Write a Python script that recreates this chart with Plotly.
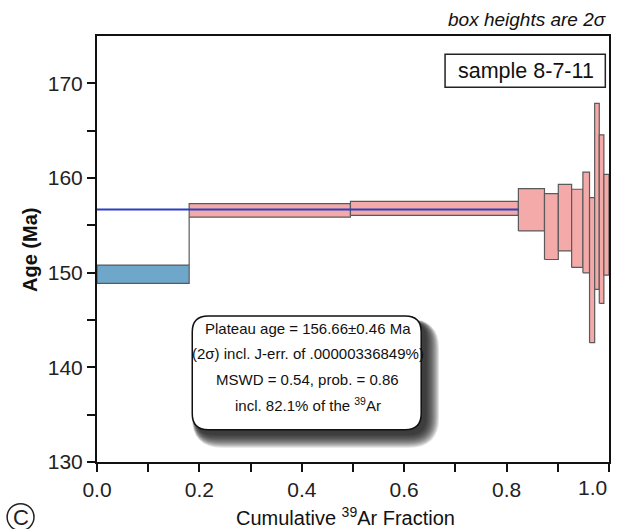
import plotly.graph_objects as go

# ---- data ----
step_edges = [0.0, 0.180, 0.495, 0.823, 0.874, 0.901, 0.927, 0.949, 0.962, 0.972, 0.981, 0.990, 1.0]
step_ages = [149.83, 156.58, 156.79, 156.64, 154.87, 155.82, 154.68, 155.30, 150.26, 158.06, 155.66, 155.06]
step_err2s = [0.97, 0.71, 0.74, 2.23, 3.48, 3.51, 4.13, 5.32, 7.66, 9.83, 8.90, 5.32]
in_plateau = [False] + [True] * 11

plateau_age = 156.66
plateau_line_x = [0.0, 0.823]

x_tick_vals = [0.0, 0.1, 0.2, 0.3, 0.4, 0.5, 0.6, 0.7, 0.8, 0.9, 1.0]
x_tick_text = ["0.0", " ", "0.2", " ", "0.4", " ", "0.6", " ", "0.8", " ", " "]
y_tick_vals = [130, 135, 140, 145, 150, 155, 160, 165, 170]
y_tick_text = ["130", " ", "140", " ", "150", " ", "160", " ", "170"]

plateau_lines = [
    "Plateau age = 156.66±0.46 Ma",
    "(2σ) incl. J-err. of .00000336849%)",
    "MSWD = 0.54, prob. = 0.86",
    "incl. 82.1% of the <sup>39</sup>Ar",
]

# ---- layout geometry (pixels) ----
W, H = 621, 529
L, R, T, B = 97.3, 611.7, 35.7, 462.3


def fx(p):
    return (p - L) / (R - L)


def fy(p):
    return (B - p) / (B - T)


def rounded_path(x0, y0, x1, y1, r):
    a0, a1 = fx(x0), fx(x1)
    b0, b1 = fy(y1), fy(y0)
    rx = r / (R - L)
    ry = r / (B - T)
    return (
        f"M {a0+rx},{b1} L {a1-rx},{b1} Q {a1},{b1} {a1},{b1-ry} "
        f"L {a1},{b0+ry} Q {a1},{b0} {a1-rx},{b0} "
        f"L {a0+rx},{b0} Q {a0},{b0} {a0},{b0+ry} "
        f"L {a0},{b1-ry} Q {a0},{b1} {a0+rx},{b1} Z"
    )


FONT = "Liberation Sans, Arial, sans-serif"
PINK = "#F4AAA8"
BLUE = "#6FA7CB"
EDGE = "#5A5A5A"

fig = go.Figure()

n = len(step_ages)
for i in range(n):
    x0, x1 = step_edges[i], step_edges[i + 1]
    lo = step_ages[i] - step_err2s[i]
    hi = step_ages[i] + step_err2s[i]
    fig.add_trace(go.Scatter(
        x=[x0, x1, x1, x0, x0], y=[lo, lo, hi, hi, lo],
        mode="lines", fill="toself",
        fillcolor=PINK if in_plateau[i] else BLUE,
        line=dict(color=EDGE, width=1.2),
        hoverinfo="skip", showlegend=False,
    ))

# vertical connectors between non-overlapping neighbouring steps
for i in range(n - 1):
    xb = step_edges[i + 1]
    lo_a, hi_a = step_ages[i] - step_err2s[i], step_ages[i] + step_err2s[i]
    lo_b, hi_b = step_ages[i + 1] - step_err2s[i + 1], step_ages[i + 1] + step_err2s[i + 1]
    if hi_a < lo_b:
        ys = [hi_a, lo_b]
    elif hi_b < lo_a:
        ys = [hi_b, lo_a]
    else:
        continue
    fig.add_trace(go.Scatter(x=[xb, xb], y=ys, mode="lines",
                             line=dict(color=EDGE, width=1.2),
                             hoverinfo="skip", showlegend=False))

fig.add_trace(go.Scatter(
    x=plateau_line_x, y=[plateau_age, plateau_age], mode="lines",
    line=dict(color="#2B3FC2", width=2), hoverinfo="skip", showlegend=False))

shapes = []
# annotation box shadow + box
bx0, by0, bx1, by1 = 193, 316, 423, 430
for k in range(14, 0, -1):
    shapes.append(dict(type="path", xref="paper", yref="paper",
                       path=rounded_path(bx0 + 4 - k * 0.3, by0 + 6 - k * 0.2,
                                         bx1 + 4 + k * 1.0, by1 + 4 + k * 1.0, 16 + k),
                       fillcolor="rgba(20,20,20,0.11)", line=dict(width=0), layer="above"))
shapes.append(dict(type="path", xref="paper", yref="paper",
                   path=rounded_path(bx0, by0, bx1, by1, 16),
                   fillcolor="white", line=dict(color="#111111", width=1.5), layer="above"))
# sample label box
shapes.append(dict(type="rect", xref="paper", yref="paper",
                   x0=fx(447), x1=fx(608), y0=fy(87), y1=fy(54),
                   fillcolor="white", line=dict(color="#222222", width=1.5), layer="above"))
# circled C
shapes.append(dict(type="circle", xref="paper", yref="paper",
                   x0=fx(7), x1=fx(34), y0=fy(531), y1=fy(504),
                   line=dict(color="#222222", width=1.5)))

annotations = []
line_y = [329, 354, 380, 405]
for txt, yy in zip(plateau_lines, line_y):
    annotations.append(dict(text=txt, xref="paper", yref="paper",
                            x=fx((bx0 + bx1) / 2 + 1), y=fy(yy), xanchor="center", yanchor="middle",
                            showarrow=False, font=dict(family=FONT, size=15, color="#111111")))
annotations += [
    dict(text="sample 8-7-11", xref="paper", yref="paper", x=fx(528), y=fy(70.5),
         xanchor="center", yanchor="middle", showarrow=False,
         font=dict(family=FONT, size=21.5, color="#111111")),
    dict(text="<i>box heights are 2σ</i>", xref="paper", yref="paper", x=fx(612), y=fy(19),
         xanchor="right", yanchor="middle", showarrow=False,
         font=dict(family=FONT, size=19, color="#111111")),
    dict(text="1.0", xref="x", yref="paper", x=1.0, y=fy(488),
         xanchor="right", yanchor="middle", showarrow=False,
         font=dict(family=FONT, size=21, color="#222222")),
    dict(text="Cumulative <sup>39</sup>Ar Fraction", xref="paper", yref="paper",
         x=fx(347), y=fy(517), xanchor="center", yanchor="middle", showarrow=False,
         font=dict(family=FONT, size=20, color="#111111")),
    dict(text="<b>Age (Ma)</b>", xref="paper", yref="paper", x=fx(30), y=fy(250),
         xanchor="center", yanchor="middle", textangle=-90, showarrow=False,
         font=dict(family=FONT, size=20, color="#111111")),
    dict(text="C", xref="paper", yref="paper", x=fx(20.5), y=fy(517.5),
         xanchor="center", yanchor="middle", showarrow=False,
         font=dict(family=FONT, size=22, color="#222222")),
]

fig.update_layout(
    width=W, height=H,
    margin=dict(l=L, r=W - R, t=T, b=H - B, pad=0),
    paper_bgcolor="white", plot_bgcolor="white",
    shapes=shapes, annotations=annotations, showlegend=False,
    font=dict(family=FONT, color="#222222"),
)
fig.update_xaxes(range=[0, 1], tickvals=x_tick_vals, ticktext=x_tick_text,
                 ticks="outside", ticklen=8, tickwidth=1.5, tickcolor="#111111",
                 showline=True, linecolor="#111111", linewidth=2, mirror=True,
                 showgrid=False, zeroline=False,
                 tickfont=dict(family=FONT, size=21, color="#222222"))
fig.update_yaxes(range=[130, 175], tickvals=y_tick_vals, ticktext=y_tick_text,
                 ticks="outside", ticklen=8, tickwidth=1.5, tickcolor="#111111",
                 showline=True, linecolor="#111111", linewidth=2, mirror=True,
                 showgrid=False, zeroline=False,
                 tickfont=dict(family=FONT, size=21, color="#222222"))

fig.write_html("out.html")
